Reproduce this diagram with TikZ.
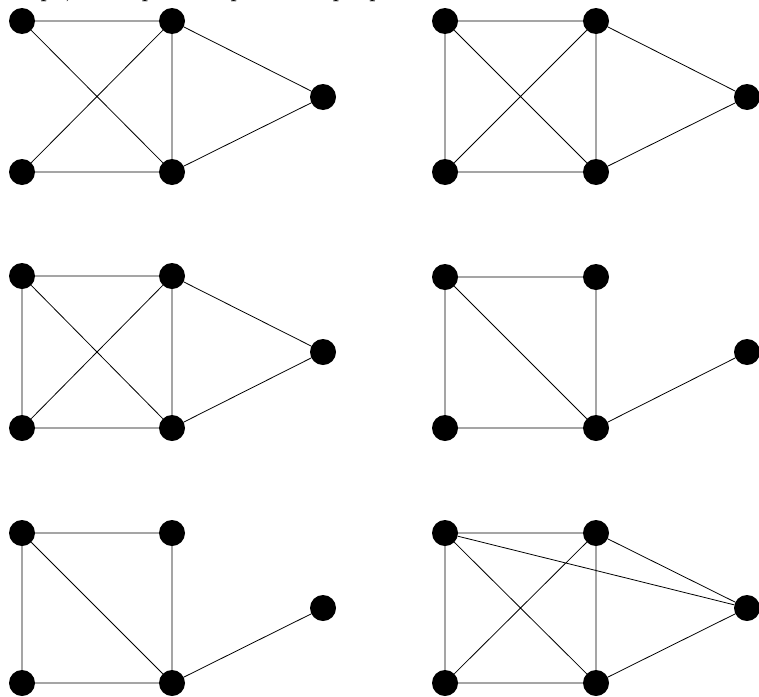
\documentclass[tikz,border=0pt]{standalone}
\begin{document}
\begin{tikzpicture}[x=1pt,y=-1pt,
  vtx/.style={circle,fill=black,inner sep=0pt,minimum size=26pt},
  edge/.style={line width=0.8pt,black}]
\useasboundingbox (0,0) rectangle (759,696);
\fill[white] (0,0) rectangle (759,696);
\node[anchor=base east,inner sep=0pt,font=\fontsize{27}{32}\selectfont\itshape] (cap) at (402,-4) {In the shape, each point represents people};
% Graph 1
\node[vtx] (a1) at (22,21) {};
\node[vtx] (a2) at (172,21) {};
\node[vtx] (a3) at (323,97) {};
\node[vtx] (a4) at (22,172) {};
\node[vtx] (a5) at (172,172) {};
% Graph 2
\node[vtx] (b1) at (445,21) {};
\node[vtx] (b2) at (596,21) {};
\node[vtx] (b3) at (747,97) {};
\node[vtx] (b4) at (445,172) {};
\node[vtx] (b5) at (596,172) {};
% Graph 3
\node[vtx] (c1) at (22,276) {};
\node[vtx] (c2) at (172,276) {};
\node[vtx] (c3) at (323,352) {};
\node[vtx] (c4) at (22,428) {};
\node[vtx] (c5) at (172,428) {};
% Graph 4
\node[vtx] (d1) at (445,277) {};
\node[vtx] (d2) at (596,277) {};
\node[vtx] (d3) at (747,352) {};
\node[vtx] (d4) at (445,428) {};
\node[vtx] (d5) at (596,428) {};
% Graph 5
\node[vtx] (e1) at (22,533) {};
\node[vtx] (e2) at (172,533) {};
\node[vtx] (e3) at (323,608) {};
\node[vtx] (e4) at (22,683) {};
\node[vtx] (e5) at (172,683) {};
% Graph 6
\node[vtx] (f1) at (445,533) {};
\node[vtx] (f2) at (596,533) {};
\node[vtx] (f3) at (747,608) {};
\node[vtx] (f4) at (445,683) {};
\node[vtx] (f5) at (596,683) {};
% edges
\draw[edge] (a1)--(a2) (a1)--(a5) (a4)--(a2) (a4)--(a5) (a2)--(a5) (a2)--(a3) (a5)--(a3);
\draw[edge] (b1)--(b2) (b1)--(b4) (b1)--(b5) (b4)--(b2) (b4)--(b5) (b2)--(b5) (b2)--(b3) (b5)--(b3);
\draw[edge] (c1)--(c2) (c1)--(c4) (c1)--(c5) (c4)--(c2) (c4)--(c5) (c2)--(c5) (c2)--(c3) (c5)--(c3);
\draw[edge] (d1)--(d2) (d1)--(d4) (d1)--(d5) (d2)--(d5) (d4)--(d5) (d5)--(d3);
\draw[edge] (e1)--(e2) (e1)--(e4) (e1)--(e5) (e2)--(e5) (e4)--(e5) (e5)--(e3);
\draw[edge] (f1)--(f2) (f1)--(f4) (f1)--(f5) (f1)--(f3) (f2)--(f4) (f2)--(f5) (f2)--(f3) (f4)--(f5) (f5)--(f3);
\end{tikzpicture}
\end{document}
